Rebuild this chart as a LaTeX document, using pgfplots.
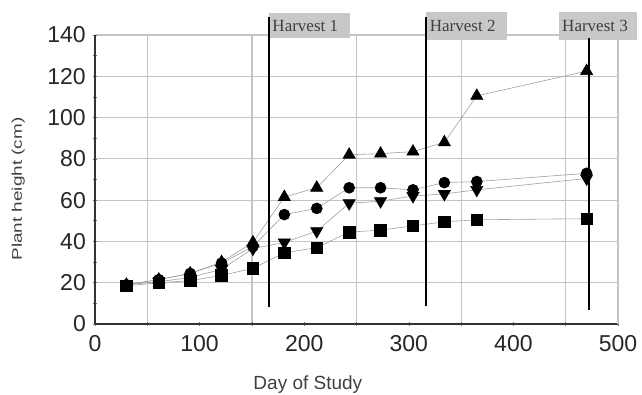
\documentclass[border=0pt]{standalone}
\usepackage{pgfplots}
\pgfplotsset{compat=1.18}
\usepackage{fontspec}
\setmainfont{Liberation Sans}
\newfontfamily\harvestfont{Liberation Serif}
\definecolor{gridc}{HTML}{C4C4C4}
\definecolor{boxc}{HTML}{C8C8C8}
\definecolor{linec}{HTML}{A0A0A0}
\definecolor{htext}{HTML}{404040}
\begin{document}
\begin{tikzpicture}
\useasboundingbox (-95pt,-70pt) rectangle (547pt,324pt);
\begin{axis}[
  at={(0,0)}, anchor=origin,
  scale only axis, width=523pt, height=289pt,
  xmin=0, xmax=500, ymin=0, ymax=140,
  clip=false,
  axis x line=bottom, axis y line=left,
  axis line style={-, line width=1.3pt, color=black!80},
  xtick={0,100,...,500}, ytick={0,20,...,140},
  minor xtick={50,150,250,350,450}, minor ytick={10,30,...,130},
  xmajorgrids=false, xminorgrids=true, ymajorgrids=true,
  major grid style={draw=gridc, line width=1.2pt},
  minor grid style={draw=gridc, line width=1.2pt},
  tick style={black!55, line width=0.6pt},
  major tick length=4pt, minor tick length=4pt,
  /pgf/number format/assume math mode=true,
  ticklabel style={font=\fontsize{23}{25}\selectfont, text=black!85},
  yticklabel style={inner sep=0pt, xshift=-7pt},
  xticklabel style={inner sep=0pt, yshift=-9pt},
  xlabel={Day of Study},
  xlabel style={at={(axis description cs:0.407,0)}, anchor=north, inner sep=0pt, yshift=-52pt, font=\fontsize{19}{21}\selectfont, text=black!75},
  ylabel={\scalebox{1.35}[1]{Plant height (cm)}},
  ylabel style={at={(axis description cs:0,0.467)}, anchor=south, inner sep=0pt, yshift=70pt, font=\fontsize{14}{16}\selectfont, text=black!75},
  every axis plot/.append style={color=linec, line width=0.6pt},
]
% up triangles
\addplot[mark=triangle*, mark size=7pt, mark options={fill=black, draw=black}] coordinates {
(30,19) (61,21.5) (91,24.5) (121,30) (151,39.5) (181,61.5) (212,66) (243,82) (273,82.5) (304,83.5) (334,88) (365,110.5) (470,122.5)};
% circles
\addplot[mark=*, mark size=5.5pt, mark options={fill=black, draw=black}] coordinates {
(30,19) (61,21.5) (91,24.5) (121,29.5) (151,37.5) (181,53) (212,56) (243,66) (273,66) (304,65) (334,68.5) (365,69) (470,73)};
% down triangles
\addplot[mark=triangle*, mark size=7pt, mark options={fill=black, draw=black, rotate=180}] coordinates {
(30,19) (61,20.5) (91,22.5) (121,26.5) (151,36.5) (181,39.5) (212,45) (243,58.5) (273,59.5) (304,62) (334,63) (365,65) (470,70.5)};
% squares
\addplot[mark=square*, mark size=5.8pt, mark options={fill=black, draw=black}] coordinates {
(30,18.5) (61,20) (91,21) (121,23.5) (151,27) (181,34.5) (212,37) (243,44.5) (273,45.5) (304,47.5) (334,49.5) (365,50.5) (470,51)};
% right border
\draw[draw=gridc, line width=1.2pt] (axis cs:500,0) -- (axis cs:500,140);
% harvest boxes
\fill[boxc] (axis cs:166,138.6) rectangle (axis cs:244,150.7);
\fill[boxc] (axis cs:316.5,137.6) rectangle (axis cs:394,151);
\fill[boxc] (axis cs:443.6,137.6) rectangle (axis cs:518,151);
\node[anchor=west, inner sep=0pt, font=\harvestfont\fontsize{17}{17}\selectfont, text=htext] at (axis cs:169.5,144.3) {Harvest 1};
\node[anchor=west, inner sep=0pt, font=\harvestfont\fontsize{17}{17}\selectfont, text=htext] at (axis cs:320,144.3) {Harvest 2};
\node[anchor=west, inner sep=0pt, font=\harvestfont\fontsize{17}{17}\selectfont, text=htext] at (axis cs:446.5,144.3) {Harvest 3};
% harvest lines
\draw[black, line width=2.2pt] (axis cs:166,8) -- (axis cs:166,148.5);
\draw[black, line width=2.2pt] (axis cs:316.5,8.5) -- (axis cs:316.5,148.5);
\draw[black, line width=2.2pt] (axis cs:472,7) -- (axis cs:472,138.5);
\end{axis}
\end{tikzpicture}
\end{document}
